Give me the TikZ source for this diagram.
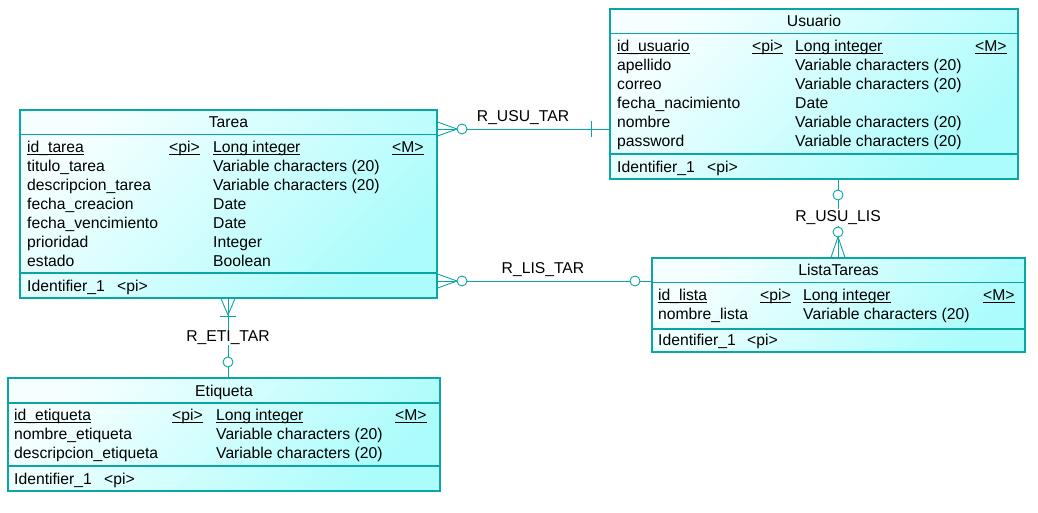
\documentclass[tikz,border=0pt]{standalone}
\usepackage{fontspec}
\setmainfont{Liberation Sans}
\usetikzlibrary{calc}
\definecolor{borde}{RGB}{10,165,165}
\definecolor{claro}{RGB}{245,255,255}
\definecolor{oscuro}{RGB}{172,252,252}
\newcommand{\clave}[1]{\setbox0\hbox{#1}\rlap{\rule[-2.6pt]{\wd0}{0.9pt}}\box0}
\tikzset{
  entidad/.style={rectangle, draw=borde, line width=1.3pt, top color=claro, bottom color=oscuro, shading angle=45, inner sep=0pt},
  linea/.style={draw=borde, line width=1.1pt},
  rel/.style={draw=borde, line width=0.9pt},
  txt/.style={anchor=base west, inner sep=0pt, text=black},
  tit/.style={anchor=base, inner sep=0pt, text=black},
  opcional/.style={circle, draw=borde, line width=0.9pt, fill=white, inner sep=0pt, minimum size=10pt},
  etiq/.style={fill=white, inner sep=1pt, text=black}
}
\begin{document}
\begin{tikzpicture}[x=1pt, y=-1pt, font=\fontsize{15.7}{19}\selectfont]
\useasboundingbox (0,0) rectangle (1038,512);

% entidades
\node[entidad, minimum width=408pt, minimum height=170pt](usuario) at (814,94){};
\node[entidad, minimum width=417pt, minimum height=188pt](tarea) at (228.5,204){};
\node[entidad, minimum width=373pt, minimum height=94pt](lista) at (838.5,305){};
\node[entidad, minimum width=432pt, minimum height=113pt](etiqueta) at (224,434.5){};

% Usuario
\draw[linea] (610,33.5) -- (1018,33.5);
\draw[linea] (610,154) -- (1018,154);
\node[tit](usuTit) at (814,26){Usuario};
\node[txt](usuA1) at (617,51){\clave{id\_usuario}};
\node[txt](usuP1) at (752,51){\clave{<pi>}};
\node[txt](usuT1) at (795,51){\clave{Long integer}};
\node[txt](usuM1) at (975,51){\clave{<M>}};
\node[txt](usuA2) at (617,70){apellido};
\node[txt](usuT2) at (795,70){Variable characters (20)};
\node[txt](usuA3) at (617,89){correo};
\node[txt](usuT3) at (795,89){Variable characters (20)};
\node[txt](usuA4) at (617,108){fecha\_nacimiento};
\node[txt](usuT4) at (795,108){Date};
\node[txt](usuA5) at (617,127){nombre};
\node[txt](usuT5) at (795,127){Variable characters (20)};
\node[txt](usuA6) at (617,146){password};
\node[txt](usuT6) at (795,146){Variable characters (20)};
\node[txt](usuId) at (617,172){Identifier\_1};
\node[txt](usuIdP) at (707,172){<pi>};

% Tarea
\draw[linea] (20,134.5) -- (437,134.5);
\draw[linea] (20,273) -- (437,273);
\node[tit](tarTit) at (228.5,127){Tarea};
\node[txt](tarA1) at (27,152){\clave{id\_tarea}};
\node[txt](tarP1) at (169,152){\clave{<pi>}};
\node[txt](tarT1) at (213,152){\clave{Long integer}};
\node[txt](tarM1) at (392,152){\clave{<M>}};
\node[txt](tarA2) at (27,171){titulo\_tarea};
\node[txt](tarT2) at (213,171){Variable characters (20)};
\node[txt](tarA3) at (27,190){descripcion\_tarea};
\node[txt](tarT3) at (213,190){Variable characters (20)};
\node[txt](tarA4) at (27,209){fecha\_creacion};
\node[txt](tarT4) at (213,209){Date};
\node[txt](tarA5) at (27,228){fecha\_vencimiento};
\node[txt](tarT5) at (213,228){Date};
\node[txt](tarA6) at (27,247){prioridad};
\node[txt](tarT6) at (213,247){Integer};
\node[txt](tarA7) at (27,266){estado};
\node[txt](tarT7) at (213,266){Boolean};
\node[txt](tarId) at (27,291){Identifier\_1};
\node[txt](tarIdP) at (117,291){<pi>};

% ListaTareas
\draw[linea] (652,282.5) -- (1025,282.5);
\draw[linea] (652,329) -- (1025,329);
\node[tit](lisTit) at (838.5,275){ListaTareas};
\node[txt](lisA1) at (658,300){\clave{id\_lista}};
\node[txt](lisP1) at (760,300){\clave{<pi>}};
\node[txt](lisT1) at (803,300){\clave{Long integer}};
\node[txt](lisM1) at (983,300){\clave{<M>}};
\node[txt](lisA2) at (658,319){nombre\_lista};
\node[txt](lisT2) at (803,319){Variable characters (20)};
\node[txt](lisId) at (658,345){Identifier\_1};
\node[txt](lisIdP) at (747,345){<pi>};

% Etiqueta
\draw[linea] (8,403) -- (440,403);
\draw[linea] (8,466) -- (440,466);
\node[tit](etiTit) at (224,396){Etiqueta};
\node[txt](etiA1) at (14,420){\clave{id\_etiqueta}};
\node[txt](etiP1) at (172,420){\clave{<pi>}};
\node[txt](etiT1) at (216,420){\clave{Long integer}};
\node[txt](etiM1) at (395,420){\clave{<M>}};
\node[txt](etiA2) at (14,439){nombre\_etiqueta};
\node[txt](etiT2) at (216,439){Variable characters (20)};
\node[txt](etiA3) at (14,458){descripcion\_etiqueta};
\node[txt](etiT3) at (216,458){Variable characters (20)};
\node[txt](etiId) at (14,484){Identifier\_1};
\node[txt](etiIdP) at (104,484){<pi>};

% R_USU_TAR
\coordinate (c1) at (462,129);
\draw[rel] (tarea.east |- c1) -- (usuario.west |- c1);
\draw[rel] ($(tarea.east |- c1)+(0,-7)$) -- ($(c1)+(-5,0)$) -- ($(tarea.east |- c1)+(0,7)$);
\draw[rel] (591,121) -- (591,137);
\node[opcional](o1) at (c1){};
\node[tit](rUsuTar) at (523,121){R\_USU\_TAR};

% R_LIS_TAR
\coordinate (c2) at (462,281);
\draw[rel] (tarea.east |- c2) -- (lista.west |- c2);
\draw[rel] ($(tarea.east |- c2)+(0,-7)$) -- ($(c2)+(-5,0)$) -- ($(tarea.east |- c2)+(0,7)$);
\node[opcional](o2) at (c2){};
\node[opcional](o3) at (635,281){};
\node[tit](rLisTar) at (543,273){R\_LIS\_TAR};

% R_ETI_TAR
\coordinate (c4) at (228,315);
\draw[rel] (tarea.south -| c4) -- (etiqueta.north -| c4);
\draw[rel] ($(tarea.south -| c4)+(-7,0)$) -- (c4) -- ($(tarea.south -| c4)+(7,0)$);
\draw[rel] (220,316) -- (236,316);
\node[opcional](o4) at (228,362){};
\node[etiq](rEtiTar) at (228,337.5){R\_ETI\_TAR};

% R_USU_LIS
\coordinate (c5) at (838,237);
\draw[rel] (usuario.south -| c5) -- (lista.north -| c5);
\draw[rel] ($(lista.north -| c5)+(-7,0)$) -- (c5) -- ($(lista.north -| c5)+(7,0)$);
\node[opcional](o5) at (838,195){};
\node[opcional](o6) at (838,232){};
\node[etiq](rUsuLis) at (838,217.5){R\_USU\_LIS};
\end{tikzpicture}
\end{document}
